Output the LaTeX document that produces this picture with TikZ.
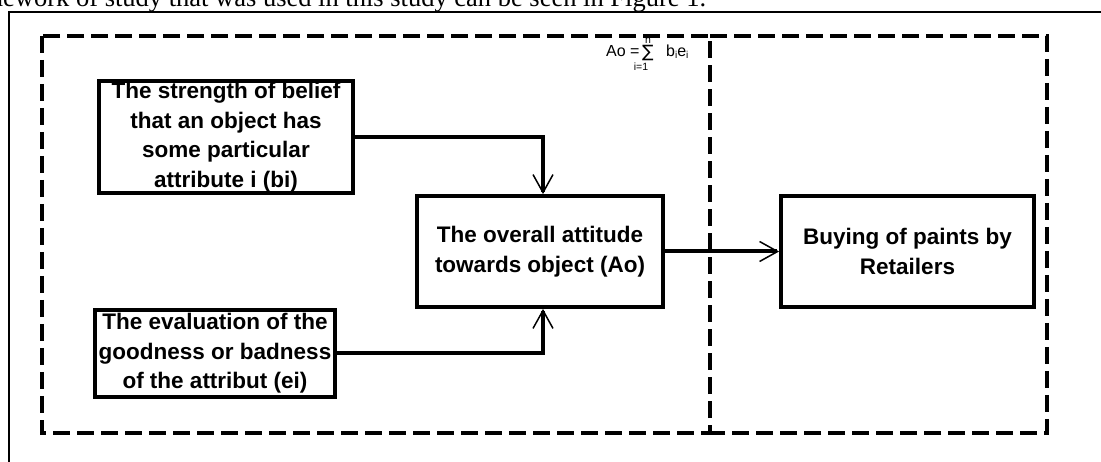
\documentclass[tikz,border=0pt]{standalone}
\usepackage{fontspec}
\setmainfont{Liberation Sans}
\newfontfamily\topserif{Liberation Serif}
\newfontfamily\symfont{DejaVu Sans}
\usetikzlibrary{arrows.meta}
\begin{document}
\begin{tikzpicture}[x=1pt,y=-1pt,
  box/.style={draw,line width=3.8pt,inner sep=0pt,align=center,
    font=\fontsize{22.5}{29.5}\selectfont\bfseries},
  dashbox/.style={line width=4pt,dash pattern=on 17pt off 7pt},
  conn/.style={line width=4pt,-{Straight Barb[length=18pt,width=20pt,line width=1.5pt]}},
  frame/.style={line width=2pt},
  ftxt/.style={inner sep=0pt,font=\fontsize{16}{18}\selectfont},
  flim/.style={inner sep=0pt,font=\fontsize{10.5}{12}\selectfont}
]
\useasboundingbox (0,0) rectangle (1101,462);
\clip (0,0) rectangle (1101,462);
% caption line (cropped)
\node[anchor=base west,inner sep=0pt,font=\topserif\fontsize{26.5}{30}\selectfont] (cap) at (-47,7)
  {framework of study that was used in this study can be seen in Figure 1.};
% outer frame
\coordinate (fbl) at (9,470);
\coordinate (ftl) at (9,12);
\coordinate (ftr) at (1110,12);
\draw[frame] (fbl) -- (ftl) -- (ftr);
% dashed boxes
\draw[dashbox] (42,36) rectangle (710,433);
\draw[dashbox] (710,36) -- (1047,36) -- (1047,433) -- (710,433);
% formula
\node[ftxt,anchor=base west] (ao) at (606,57) {Ao =};
\node[anchor=base west,inner sep=0pt,font=\symfont\fontsize{17}{18}\selectfont] (sig) at (642,58) {∑};
\node[flim,anchor=base] (fn) at (648,44) {n};
\node[flim,anchor=base] (fi) at (641,71) {i=1};
\node[ftxt,anchor=base west] (be) at (666,57) {b\raisebox{-1.5pt}{\fontsize{10}{11}\selectfont i}e\raisebox{-1.5pt}{\fontsize{10}{11}\selectfont i}};
% boxes
\node[box,minimum width=254pt,minimum height=112pt] (b1) at (226,137)
  {The strength of belief\\that an object has\\some particular\\attribute i (bi)};
\node[box,minimum width=240pt,minimum height=87pt] (b2) at (215,353.5)
  {The evaluation of the\\goodness or badness\\of the attribut (ei)};
\node[box,minimum width=246pt,minimum height=111pt] (ctr) at (540,251.5)
  {The overall attitude\\towards object (Ao)};
\node[box,minimum width=253pt,minimum height=111pt] (rt) at (907.5,251.5)
  {Buying of paints by\\Retailers};
% connectors
\draw[conn] (b1.east) -| ([xshift=3pt]ctr.north);
\draw[conn] (b2.east) -| ([xshift=3pt]ctr.south);
\draw[conn] (ctr.east) -- (rt.west);
\end{tikzpicture}
\end{document}
